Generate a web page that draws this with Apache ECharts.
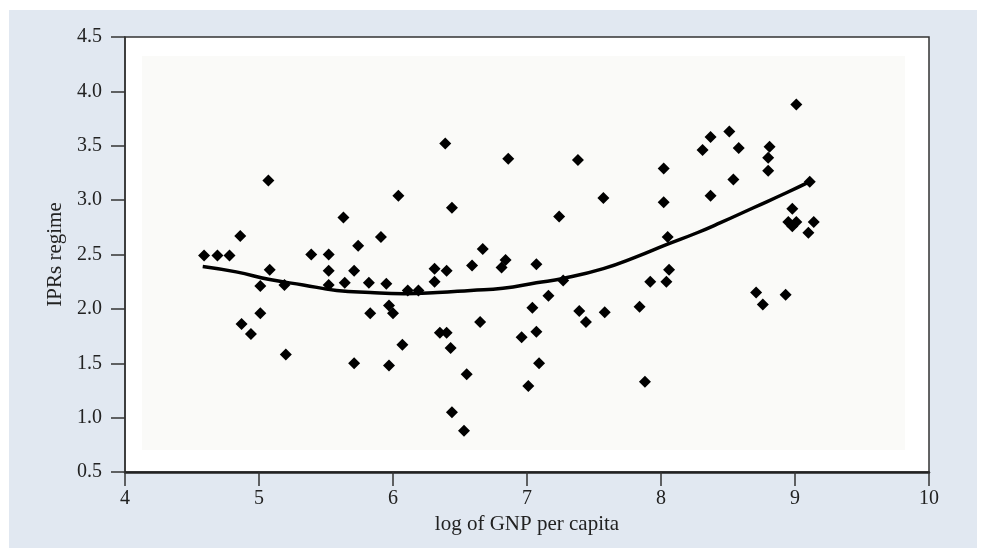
<!DOCTYPE html>
<html>
<head>
<meta charset="utf-8">
<script src="https://cdn.jsdelivr.net/npm/echarts@6/dist/echarts.min.js"></script>
<style>
  html, body { margin: 0; padding: 0; background: #fff; }
  #main { width: 986px; height: 548px; }
</style>
</head>
<body>
<div id="main"></div>
<script>
// log of GNP per capita (x) and IPRs regime (y), one entry per country
var gnpX = [4.59, 4.69, 4.78, 5.07, 4.86, 5.08, 5.01, 5.19, 5.01, 4.87, 4.94, 5.20,
  5.39, 5.52, 5.52, 5.52, 5.63, 5.74, 5.71, 5.64, 5.91, 5.82, 5.95, 5.83, 5.97, 6.00,
  5.71, 5.97, 6.07, 6.04, 6.11, 6.19, 6.31, 6.40, 6.31, 6.39, 6.44, 6.35, 6.40, 6.43,
  6.44, 6.53, 6.55, 6.59, 6.67, 6.65, 6.86, 6.84, 6.81, 7.07, 7.04, 6.96, 7.07, 7.09,
  7.01, 7.16, 7.24, 7.27, 7.38, 7.39, 7.44, 7.57, 7.58, 7.84, 7.88, 7.92, 8.04, 8.06,
  8.02, 8.02, 8.05, 8.31, 8.37, 8.37, 8.51, 8.54, 8.58, 8.71, 8.76, 8.81, 8.80, 8.80,
  8.93, 9.01, 8.98, 8.95, 8.98, 9.01, 9.14, 9.10, 9.11];
var iprY = [2.49, 2.49, 2.49, 3.18, 2.67, 2.36, 2.21, 2.22, 1.96, 1.86, 1.77, 1.58,
  2.50, 2.50, 2.35, 2.22, 2.84, 2.58, 2.35, 2.24, 2.66, 2.24, 2.23, 1.96, 2.03, 1.96,
  1.50, 1.48, 1.67, 3.04, 2.17, 2.17, 2.37, 2.35, 2.25, 3.52, 2.93, 1.78, 1.78, 1.64,
  1.05, 0.88, 1.40, 2.40, 2.55, 1.88, 3.38, 2.45, 2.38, 2.41, 2.01, 1.74, 1.79, 1.50,
  1.29, 2.12, 2.85, 2.26, 3.37, 1.98, 1.88, 3.02, 1.97, 2.02, 1.33, 2.25, 2.25, 2.36,
  3.29, 2.98, 2.66, 3.46, 3.58, 3.04, 3.63, 3.19, 3.48, 2.15, 2.04, 3.49, 3.39, 3.27,
  2.13, 3.88, 2.92, 2.80, 2.76, 2.80, 2.80, 2.70, 3.17];

// fitted curve
var fitX = [4.58, 4.83, 5.08, 5.33, 5.58, 5.83, 6.08, 6.33, 6.58, 6.82, 7.07, 7.27,
  7.57, 7.82, 8.04, 8.27, 8.44, 8.69, 8.94, 9.11];
var fitY = [2.39, 2.34, 2.27, 2.22, 2.17, 2.15, 2.14, 2.15, 2.17, 2.19, 2.24, 2.28,
  2.37, 2.48, 2.59, 2.70, 2.79, 2.93, 3.07, 3.17];

var xTicks = ['4', '5', '6', '7', '8', '9', '10'];
var yTicks = ['0.5', '1.0', '1.5', '2.0', '2.5', '3.0', '3.5', '4.0', '4.5'];

var serif = '"Liberation Serif", "DejaVu Serif", serif';

var myChart = echarts.init(document.getElementById('main'));

var points = gnpX.map(function (x, i) { return [x, iprY[i]]; });
var fitLine = fitX.map(function (x, i) { return [x, fitY[i]]; });

var option = {
  animation: false,
  backgroundColor: '#ffffff',
  graphic: [
    { type: 'rect', z: -30, silent: true, shape: { x: 9, y: 10, width: 968, height: 538 }, style: { fill: '#e1e8f1' } },
    { type: 'rect', z: -20, silent: true, shape: { x: 125, y: 37, width: 804, height: 435 }, style: { fill: '#ffffff' } },
    { type: 'rect', z: -10, silent: true, shape: { x: 142, y: 56, width: 763, height: 394 }, style: { fill: '#fafaf8' } }
  ],
  grid: {
    left: 125,
    top: 37,
    right: 57,
    bottom: 76,
    show: true,
    borderColor: '#333',
    borderWidth: 1.5
  },
  xAxis: {
    type: 'value',
    min: 4,
    max: 10,
    interval: 1,
    name: 'log of GNP per capita',
    nameLocation: 'middle',
    nameGap: 42,
    nameTextStyle: { fontFamily: serif, fontSize: 21, color: '#222' },
    axisLine: { show: true, onZero: false, lineStyle: { color: '#222', width: 2.5 } },
    axisTick: { show: true, length: 14, lineStyle: { color: '#333', width: 1.5 } },
    axisLabel: {
      margin: 17,
      fontFamily: serif,
      fontSize: 20,
      color: '#222',
      formatter: function (v) { return xTicks[Math.round(v) - 4]; }
    },
    splitLine: { show: false }
  },
  yAxis: {
    type: 'value',
    min: 0.5,
    max: 4.5,
    interval: 0.5,
    name: 'IPRs regime',
    nameLocation: 'middle',
    nameGap: 56,
    nameTextStyle: { fontFamily: serif, fontSize: 21, color: '#222' },
    axisLine: { show: true, onZero: false, lineStyle: { color: '#333', width: 1.5 } },
    axisTick: { show: true, length: 14, lineStyle: { color: '#333', width: 1.5 } },
    axisLabel: {
      margin: 23,
      fontFamily: serif,
      fontSize: 20,
      color: '#222',
      formatter: function (v) { return yTicks[Math.round((v - 0.5) * 2)]; }
    },
    splitLine: { show: false }
  },
  series: [
    {
      type: 'line',
      data: fitLine,
      smooth: true,
      showSymbol: false,
      lineStyle: { color: '#000', width: 3.5, opacity: 1 },
      z: 3
    },
    {
      type: 'scatter',
      data: points,
      symbol: 'diamond',
      symbolSize: 12,
      itemStyle: { color: '#000', opacity: 1 },
      z: 4
    }
  ]
};

myChart.setOption(option);
</script>
</body>
</html>
